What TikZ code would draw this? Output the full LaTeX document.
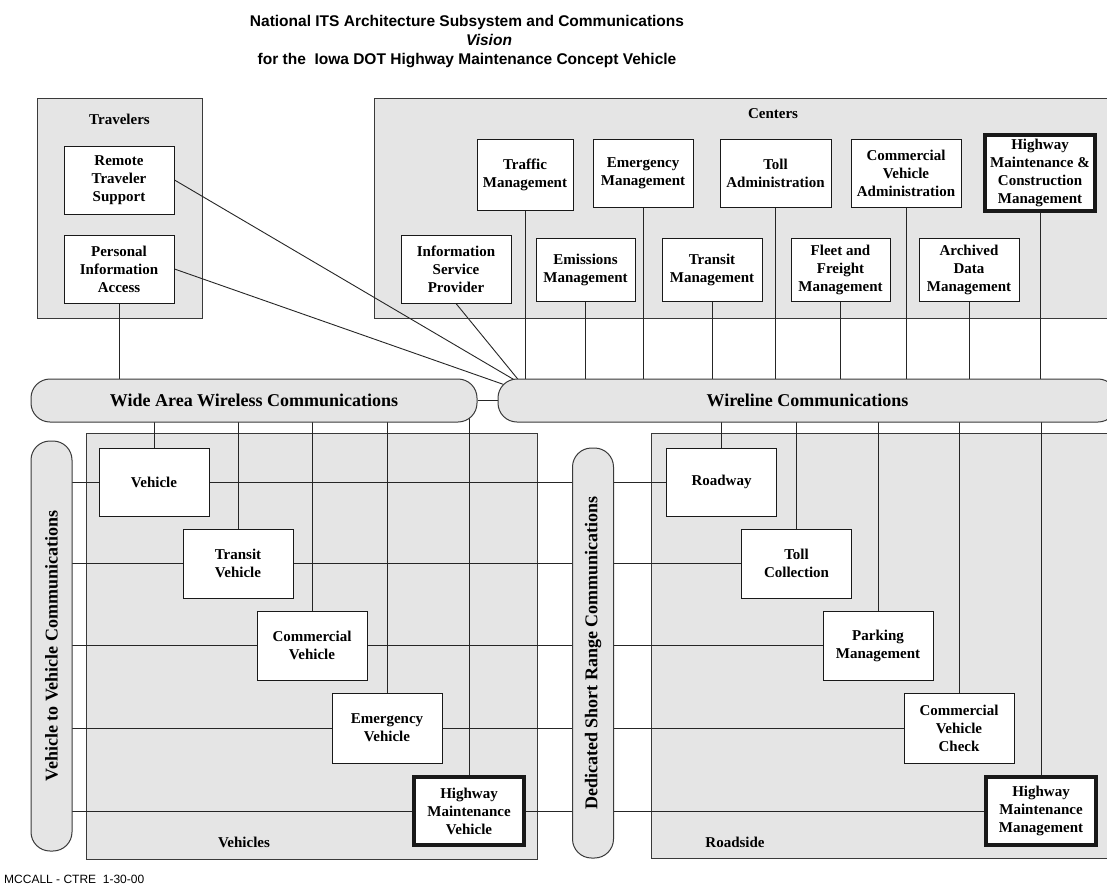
\documentclass[tikz,border=0pt]{standalone}
\usepackage{fontspec}
\setmainfont{Liberation Serif}
\newfontfamily\sansf{Liberation Sans}
\pgfdeclarelayer{grp}
\pgfdeclarelayer{wires}
\pgfsetlayers{grp,wires,main}
\definecolor{panel}{HTML}{E5E5E5}
\definecolor{edge}{HTML}{3A3A3A}
\tikzset{
  grpbox/.style={draw=edge, fill=panel, line width=1pt, inner sep=0pt},
  bar/.style={draw=edge, fill=panel, line width=1pt, rounded corners=19pt, inner sep=0pt,
    font=\fontsize{18}{21}\selectfont\bfseries},
  barlbl/.style={inner sep=0pt, font=\fontsize{18}{21}\selectfont\bfseries},
  box/.style={draw=black!90, fill=white, line width=1pt, inner sep=0pt, align=center,
    minimum width=110pt, minimum height=68pt, font=\fontsize{15}{18}\selectfont\bfseries},
  thickbox/.style={box, line width=4pt},
  wire/.style={draw=black!85, line width=0.9pt},
  lbl/.style={inner sep=0pt, font=\fontsize{15}{18}\selectfont\bfseries},
  ttl/.style={inner sep=0pt, anchor=base, font=\sansf\bfseries\fontsize{15.5}{18}\selectfont},
}
\begin{document}
\begin{tikzpicture}[x=1pt,y=-1pt]
\useasboundingbox (0,0) rectangle (1107,892);
\begin{pgfonlayer}{grp}
  \fill[white] (0,0) rectangle (1107,892);
  \node[grpbox, minimum width=165pt, minimum height=220pt] (trav) at (119.5,208) {};
  \node[grpbox, minimum width=760pt, minimum height=220pt] (cent) at (754,208) {};
  \node[grpbox, minimum width=451pt, minimum height=426pt] (vehs) at (311.5,646) {};
  \node[grpbox, minimum width=480pt, minimum height=425pt] (rds) at (891,645.5) {};
\end{pgfonlayer}

% title
\node[ttl] (t1) at (467,26) {National ITS Architecture Subsystem and Communications};
\node[ttl] (t2) at (489,45) {\itshape Vision};
\node[ttl] (t3) at (467,64) {for the\ \ Iowa DOT Highway Maintenance Concept Vehicle};

% group labels
\node[lbl] (travlbl) at (119.5,119) {Travelers};
\node[lbl] (centlbl) at (773,114) {Centers};
\node[lbl] (vehslbl) at (244,842) {Vehicles};
\node[lbl] (rdslbl) at (735,842) {Roadside};

% communication bars
\node[bar, minimum width=446pt, minimum height=43pt] (wless) at (254,400.5) {Wide Area Wireless Communications};
\node[bar, minimum width=619pt, minimum height=43pt] (wline) at (807.5,400.5) {Wireline Communications};
\node[bar, minimum width=41pt, minimum height=410pt] (v2v) at (51.5,646) {};
\node[bar, minimum width=41pt, minimum height=410pt] (dsrc) at (593,653) {};
\node[barlbl, rotate=90] (v2vlbl) at (v2v.center) {Vehicle to Vehicle Communications};
\node[barlbl, rotate=90] (dsrclbl) at (dsrc.center) {Dedicated Short Range Communications};

% travelers
\node[box] (rts) at (119,180) {Remote\\Traveler\\Support};
\node[box] (pia) at (119,269) {Personal\\Information\\Access};

% centers
\node[box, minimum width=96pt, minimum height=71pt] (traf) at (525,175) {Traffic\\Management};
\node[box, minimum width=100pt] (emgm) at (643,173.5) {Emergency\\Management};
\node[box, minimum width=111pt] (tolla) at (775.5,173.5) {Toll\\Administration};
\node[box] (cva) at (906,173.5) {Commercial\\Vehicle\\Administration};
\node[thickbox, minimum height=76pt] (hmcm) at (1040,173) {Highway\\Maintenance \&\\Construction\\Management};
\node[box] (isp) at (456,269) {Information\\Service\\Provider};
\node[box, minimum width=99pt, minimum height=63pt] (emis) at (585.5,269.5) {Emissions\\Management};
\node[box, minimum width=100pt, minimum height=63pt] (trm) at (712,269.5) {Transit\\Management};
\node[box, minimum width=99pt, minimum height=63pt] (ffm) at (840.5,269.5) {Fleet and\\Freight\\Management};
\node[box, minimum width=100pt, minimum height=63pt] (adm) at (969,269.5) {Archived\\Data\\Management};

% vehicles
\node[box] (veh) at (154,482) {Vehicle};
\node[box, minimum height=69pt] (tv) at (238,563.5) {Transit\\Vehicle};
\node[box, minimum height=69pt] (cv) at (312,645.5) {Commercial\\Vehicle};
\node[box, minimum height=70pt] (ev) at (387,728) {Emergency\\Vehicle};
\node[thickbox] (hmv) at (469,811) {Highway\\Maintenance\\Vehicle};

% roadside
\node[box] (road) at (721.5,482) {Roadway};
\node[box, minimum height=69pt] (tcol) at (796.5,563.5) {Toll\\Collection};
\node[box, minimum height=69pt] (pkm) at (878,645.5) {Parking\\Management};
\node[box, minimum height=70pt] (cvc) at (959,728) {Commercial\\Vehicle\\Check};
\node[thickbox] (hmm) at (1041,811) {Highway\\Maintenance\\Management};

% footer
\node[inner sep=0pt, anchor=base west, font=\sansf\fontsize{12}{14}\selectfont] (foot) at (4,883) {MCCALL - CTRE\ \ 1-30-00};

\coordinate (rtsend) at (518,382);
\coordinate (piaend) at (508,386);
\coordinate (ispend) at (521,383);

\begin{pgfonlayer}{wires}
  \draw[wire] (pia.south) -- (pia.south |- wless.center);
  \draw[wire] (rts.east) -- (rtsend);
  \draw[wire] (pia.east) -- (piaend);
  \draw[wire] (isp.south) -- (ispend);
  \draw[wire] (wless.east) -- (wline.west);
  \foreach \n in {traf,emgm,tolla,cva,hmcm,emis,trm,ffm,adm}
    \draw[wire] (\n.south) -- (\n.south |- wline.center);
  \foreach \n in {veh,tv,cv,ev,hmv} {
    \draw[wire] (\n.north) -- (\n.north |- wless.center);
    \draw[wire] (\n.west) -- (\n.west -| v2v.center);
    \draw[wire] (\n.east) -- (\n.east -| dsrc.center);
  }
  \foreach \n in {road,tcol,pkm,cvc,hmm} {
    \draw[wire] (\n.north) -- (\n.north |- wline.center);
    \draw[wire] (\n.west) -- (\n.west -| dsrc.center);
  }
\end{pgfonlayer}
\end{tikzpicture}
\end{document}
